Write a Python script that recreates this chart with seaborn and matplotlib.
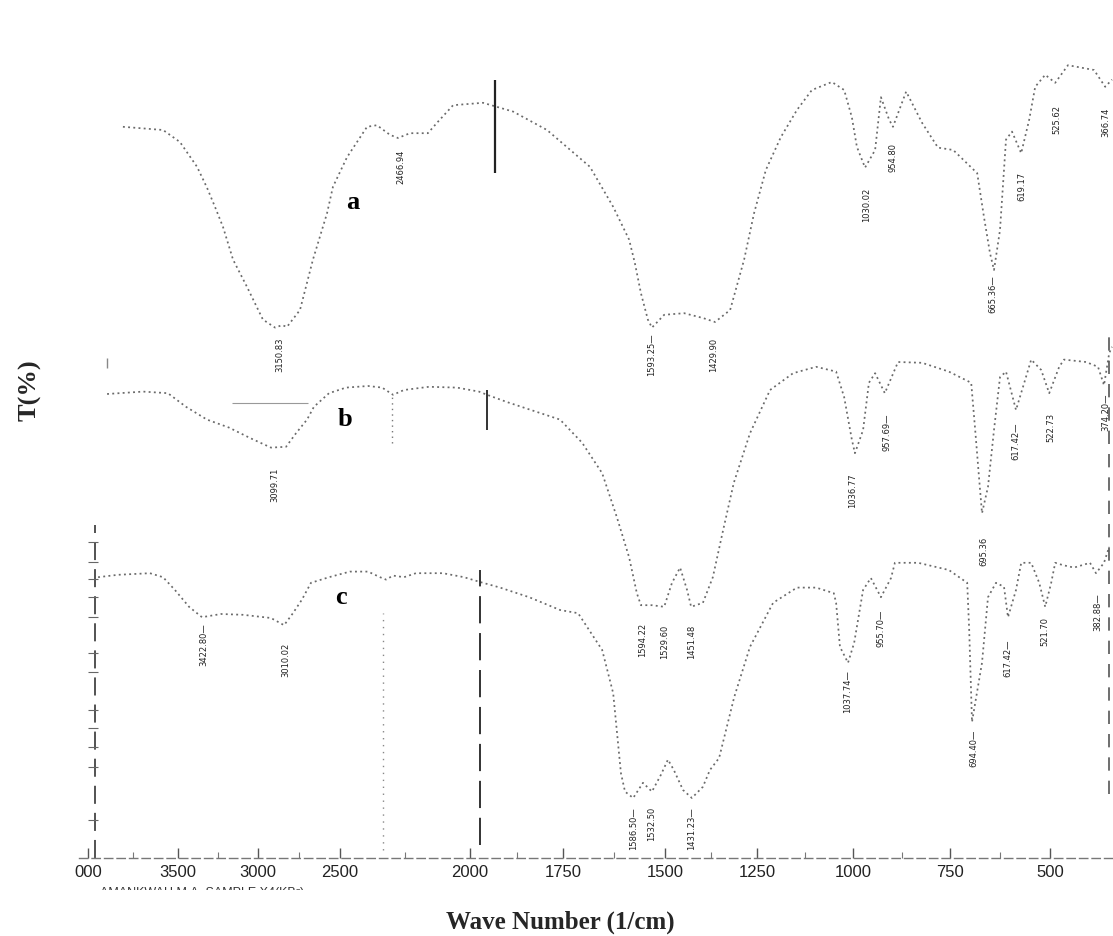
import numpy as np
import matplotlib
matplotlib.use("Agg")
import matplotlib.pyplot as plt
import seaborn as sns
from matplotlib.transforms import Bbox

# axis breaks of the scanned chart (wavenumber -> horizontal position)
knot_wn = [4600, 4000, 3500, 3000, 2500, 2000, 1750, 1500, 1250, 1000, 750, 500, 250]
knot_pos = [-20, 88, 178, 258, 340, 470, 563, 665, 757, 853, 950, 1050, 1150]

tick_wn = [4000, 3500, 3000, 2500, 2000, 1750, 1500, 1250, 1000, 750, 500]
tick_text = ["000", "3500", "3000", "2500", "2000", "1750", "1500", "1250", "1000", "750", "500"]

# spectrum a
a_wn = [3806, 3583, 3488, 3381, 3319, 3269, 3219, 3156, 3069, 2970, 2896, 2854, 2823, 2744,
        2665, 2579, 2543, 2473, 2396, 2358, 2308, 2277, 2231, 2162, 2127, 2065, 1965, 1884,
        1793, 1684, 1627, 1588, 1574, 1559, 1542, 1532, 1502, 1448, 1397, 1364, 1323, 1285,
        1258, 1227, 1188, 1146, 1107, 1055, 1023, 1003, 990, 969, 943, 928, 907, 897, 863,
        822, 781, 742, 682, 665, 650, 640, 625, 610, 595, 572, 552, 537, 512, 487, 455, 390,
        362, 345]
a_t = [91.4, 91.0, 89.5, 86.4, 83.8, 81.4, 78.9, 74.8, 71.4, 67.3, 66.3, 66.6, 66.4, 68.5,
       74.8, 80.6, 83.9, 87.6, 91.4, 91.6, 90.4, 90.0, 90.6, 90.6, 91.9, 94.1, 94.4, 93.3,
       91.0, 86.4, 81.4, 77.3, 74.4, 70.6, 67.3, 66.3, 67.9, 68.1, 67.5, 67.0, 68.5, 74.8,
       80.6, 86.0, 90.1, 93.5, 96.0, 97.0, 96.0, 92.6, 88.9, 86.3, 88.5, 95.1, 92.3, 91.4,
       95.8, 91.9, 88.8, 88.5, 85.6, 80.1, 75.6, 73.5, 78.5, 89.8, 90.8, 88.1, 92.3, 96.4,
       97.9, 96.9, 99.1, 98.5, 96.4, 97.3]

# spectrum b
b_wn = [3894, 3694, 3556, 3450, 3319, 3181, 3050, 2921, 2829, 2768, 2701, 2659, 2567, 2477,
        2392, 2338, 2296, 2254, 2158, 2050, 1976, 1954, 1901, 1823, 1758, 1703, 1654, 1618,
        1588, 1569, 1559, 1532, 1502, 1481, 1459, 1440, 1429, 1397, 1370, 1342, 1313, 1269,
        1216, 1156, 1096, 1044, 1023, 1003, 995, 974, 959, 943, 918, 884, 822, 753, 697,
        687, 677, 670, 655, 640, 625, 610, 585, 562, 547, 522, 502, 477, 465, 410, 380, 365,
        352, 345]
b_t = [58.0, 58.3, 58.1, 56.4, 54.8, 53.8, 52.5, 51.3, 51.4, 53.1, 54.8, 56.4, 58.1, 58.8,
       59.0, 58.8, 57.9, 58.5, 58.9, 58.8, 58.3, 57.9, 57.0, 55.8, 54.8, 51.9, 48.1, 42.6,
       37.6, 33.1, 31.6, 31.6, 31.4, 34.4, 36.3, 33.5, 31.4, 31.9, 35.1, 41.0, 46.9, 53.1,
       58.5, 60.6, 61.4, 60.8, 57.6, 52.3, 50.6, 53.5, 59.4, 60.6, 58.1, 62.0, 61.9, 60.8,
       59.4, 53.5, 47.3, 43.1, 46.4, 53.5, 60.1, 60.8, 56.0, 59.8, 62.3, 61.0, 58.1, 61.4,
       62.3, 62.0, 61.4, 59.1, 63.1, 63.9]

# spectrum c
c_wn = [3944, 3833, 3656, 3583, 3517, 3431, 3350, 3231, 3094, 2921, 2841, 2787, 2732, 2677,
        2567, 2462, 2392, 2346, 2323, 2296, 2254, 2208, 2104, 2023, 1973, 1919, 1841, 1758,
        1713, 1654, 1627, 1608, 1598, 1578, 1554, 1532, 1510, 1492, 1476, 1451, 1427, 1397,
        1378, 1353, 1312, 1269, 1208, 1146, 1096, 1050, 1044, 1034, 1013, 997, 974, 954, 928,
        902, 892, 832, 753, 707, 702, 695, 670, 655, 635, 615, 605, 585, 572, 547, 527, 512,
        497, 487, 467, 440, 400, 385, 365, 352]
c_t = [35.1, 35.4, 35.6, 35.1, 33.5, 31.4, 30.1, 30.5, 30.4, 30.0, 29.1, 30.6, 32.3, 34.4,
       35.1, 35.8, 35.8, 35.1, 34.8, 35.3, 35.1, 35.6, 35.6, 35.1, 34.5, 33.8, 32.6, 31.0,
       30.6, 26.0, 20.6, 10.6, 8.3, 7.5, 9.4, 8.3, 10.4, 12.3, 11.0, 8.5, 7.5, 8.9,
       11.0, 12.5, 20.1, 26.4, 31.9, 33.8, 33.8, 33.1, 31.9, 26.4, 24.4, 26.9, 33.5, 35.0,
       32.6, 35.0, 36.9, 36.9, 36.0, 34.4, 28.5, 17.0, 24.4, 32.6, 34.4, 33.9, 30.1, 33.5,
       36.9, 36.9, 34.4, 31.4, 34.4, 36.9, 36.6, 36.3, 36.9, 35.6, 36.9, 38.9]

# peak labels (text, position, top of label)
a_peak_text = ["3150.83", "2466.94", "1593.25—", "1429.90", "1030.02", "954.80", "665.36—",
               "619.17", "525.62", "366.74"]
a_peak_wn = [2866, 2265, 1532, 1367, 964, 897, 642, 570, 482, 360]
a_peak_t = [65.0, 88.5, 65.6, 65.0, 83.8, 89.4, 72.9, 85.8, 94.1, 93.8]

b_peak_text = ["3099.71", "1594.22", "1529.60", "1451.48", "1036.77", "957.69—", "695.36",
               "617.42—", "522.73", "374.20—"]
b_peak_wn = [2896, 1554, 1502, 1429, 1000, 912, 665, 585, 497, 360]
b_peak_t = [48.8, 29.4, 29.1, 29.1, 48.1, 55.6, 40.1, 54.4, 55.6, 58.1]

c_peak_text = ["3422.80—", "3010.02", "1586.50—", "1532.50", "1431.23—", "1037.74—",
               "955.70—", "694.40—", "617.42—", "521.70", "382.88—"]
c_peak_wn = [3337, 2829, 1578, 1532, 1427, 1013, 928, 690, 605, 512, 380]
c_peak_t = [29.4, 26.9, 6.4, 6.4, 6.4, 23.5, 31.0, 16.0, 27.3, 30.1, 33.1]

spectra = [("a", a_wn, a_t, a_peak_text, a_peak_wn, a_peak_t, 2450, 81.9),
           ("b", b_wn, b_t, b_peak_text, b_peak_wn, b_peak_t, 2481, 54.8),
           ("c", c_wn, c_t, c_peak_text, c_peak_wn, c_peak_t, 2496, 32.6)]


def fwd(w):
    return -np.interp(-np.asarray(w, dtype=float), [-k for k in knot_wn], knot_pos)


def inv(s):
    return -np.interp(-np.asarray(s, dtype=float), knot_pos, [-k for k in knot_wn])


sns.set_theme(style="white")
fig = plt.figure(figsize=(11.13, 9.36), dpi=100)
ax = fig.add_axes([0, 78 / 936, 1, 800 / 936])
ax.set_xscale("function", functions=(fwd, inv))

for name, wn, t, ptxt, pwn, pt, lx, ly in spectra:
    sns.lineplot(x=wn, y=t, ax=ax, sort=False, estimator=None, color="#6a6a6a",
                 linestyle=(0, (1.1, 1.9)), linewidth=1.25)
    for s, x, y in zip(ptxt, pwn, pt):
        ax.text(x, y, s, rotation=90, ha="center", va="top", fontsize=6,
                color="#222222", family="DejaVu Sans")
    ax.text(lx, ly, name, fontsize=19, fontweight="bold", family="Liberation Serif",
            ha="center", va="center", color="black")

# scan artefacts: marker lines at the 2000 cm-1 break
ax.vlines(1933, 85.6, 97.3, color="#222222", lw=1.6)
ax.vlines(1954, 53.5, 58.5, color="#333333", lw=1.4)
ax.vlines(1973, 1.6, 36.0, color="#333333", lw=1.4, linestyles=[(0, (14, 5))])
ax.vlines(2300, 51.9, 57.9, color="#777777", lw=1, linestyles=[(0, (1, 3))])
ax.vlines(2335, 1.0, 30.6, color="#888888", lw=1, linestyles=[(0, (1, 4))])
ax.hlines(56.9, 3163, 2695, color="#999999", lw=0.8)
ax.vlines(3894, 61.3, 62.5, color="#888888", lw=1)
ax.vlines(352, 8.0, 66.0, color="#555555", lw=1.2, linestyles=[(0, (8, 6))])

# small vertical scale of spectrum c
ax.vlines(3961, 0.0, 41.6, color="#444444", lw=1.3, linestyles=[(0, (10, 5))])
c_scale_t = [39.5, 37.0, 34.9, 32.6, 30.1, 25.6, 23.3, 18.5, 16.3, 13.9, 11.4, 4.8]
ax.hlines(c_scale_t, 4000, 3944, color="#666666", lw=0.8)

ax.set_ylim(0, 100)
ax.set_xlim(inv(0), inv(-1113))
ax.set_xticks(tick_wn)
ax.set_xticklabels(tick_text, fontsize=12, color="#222222", family="Liberation Sans")
ax.set_xticks([3750, 3250, 2750, 2250, 1875, 1625, 1375, 1125, 875, 625], minor=True)
ax.tick_params(axis="x", which="major", direction="in", length=7, width=1, color="#555555",
               pad=5, bottom=True)
ax.tick_params(axis="x", which="minor", direction="in", length=4, width=0.8,
               color="#777777", bottom=True)
ax.set_yticks([])
for side in ["top", "left", "right"]:
    ax.spines[side].set_visible(False)
ax.spines["bottom"].set_color("#777777")
ax.spines["bottom"].set_linewidth(1)
ax.spines["bottom"].set_linestyle((0, (6, 3)))
ax.spines["bottom"].set_bounds(4050, 342)

sample = fig.text(100 / 1113, 1 - 893 / 936, "AMANKWAH M.A. SAMPLE X4(KBr)", fontsize=9,
                  family="Liberation Sans", color="#333333", va="center")
sample.set_clip_box(Bbox([[0, 936 - 890], [1113, 936]]))

fig.text(560 / 1113, 1 - 922 / 936, "Wave Number (1/cm)", fontsize=18, fontweight="bold",
         family="Liberation Serif", ha="center", va="center")
fig.text(30 / 1113, 1 - 390 / 936, "T(%)", fontsize=19, fontweight="bold",
         family="Liberation Serif", ha="center", va="center", rotation=90)

fig.savefig("out.png", dpi=100)
